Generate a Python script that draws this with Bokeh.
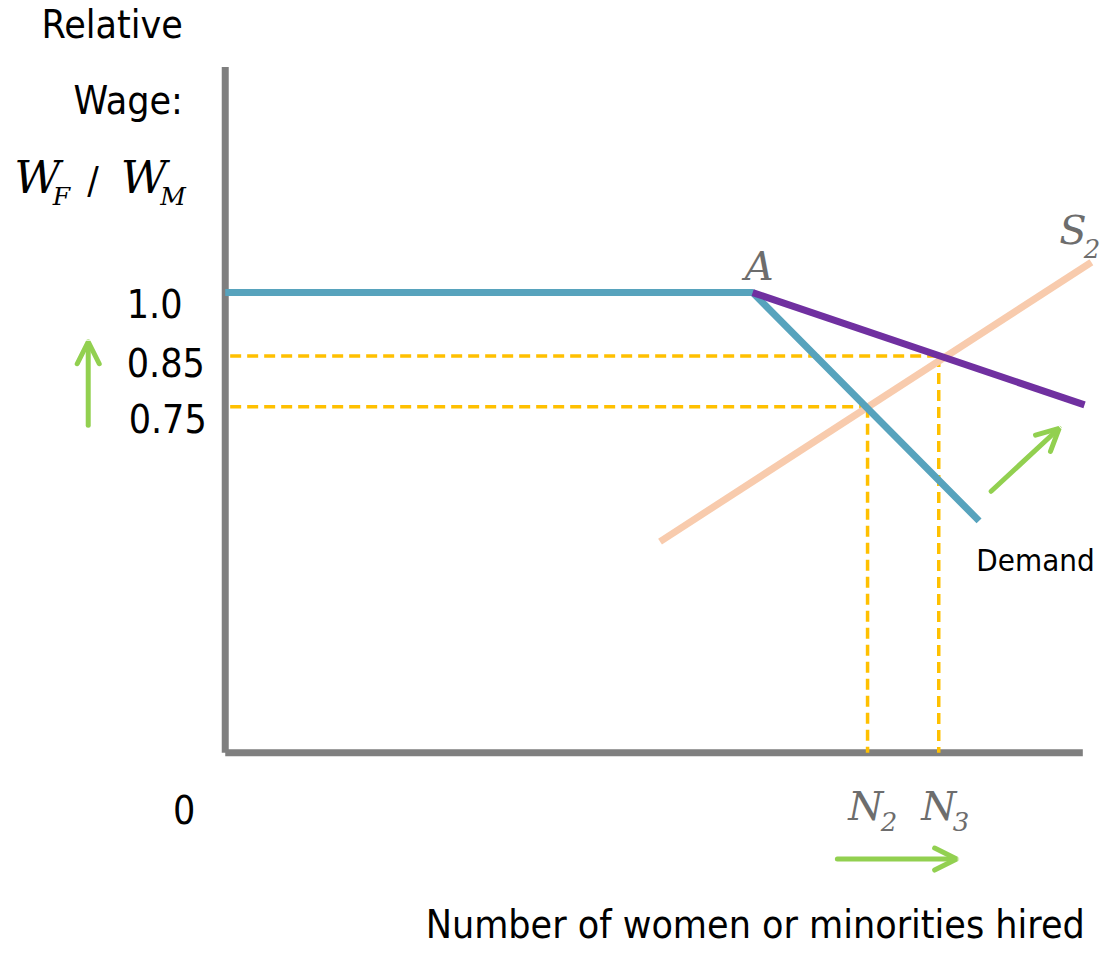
from bokeh.plotting import figure
from bokeh.models import Range1d, Arrow, OpenHead
from bokeh.core.properties import value
from bokeh.embed import file_html
from bokeh.resources import INLINE

# ---------------- data ----------------
axis_N_max = 100.0          # end of the horizontal axis
axis_W_max = 1.49           # top of the vertical axis
demand_N = [0.0, 61.5, 87.9]        # original demand, kinked at A
demand_W = [1.0, 1.0, 0.504]
demand2_N = [61.5, 100.2]           # new demand from A
demand2_W = [1.0, 0.756]
supply_N = [50.7, 101.0]            # S2
supply_W = [0.459, 1.066]
eq_N = [74.9, 83.2]                 # N2, N3
eq_W = [0.752, 0.862]               # 0.75, 0.85
tick_labels = ["1.0", "0.85", "0.75"]

# ---------------- helpers: reference-image pixel -> data ----------------
PXN = 8.7
PXW = 468.0
def X(px):
    return (px - 228) / PXN
def Y(py):
    return (765 - py) / PXW

W, H = 1104, 949
p = figure(width=W, height=H, output_backend="svg", toolbar_location=None,
           x_range=Range1d(X(0), X(1120)), y_range=Range1d(Y(965), Y(0)),
           x_axis_location=None, y_axis_location=None, min_border=0,
           outline_line_color=None, background_fill_color="white",
           border_fill_color="white")
p.xgrid.visible = False
p.ygrid.visible = False

SANS = value("DejaVu Sans Condensed, Liberation Sans Narrow, Roboto")
SERIF = value("DejaVu Serif")
GREY_T = "#6d6d6d"
GREEN = "#92d050"

# axes
p.segment(x0=[0, 0], y0=[Y(765), 0], x1=[0, axis_N_max], y1=[axis_W_max, 0],
          line_color="#7f7f7f", line_width=7)

# dashed guides
dash = dict(line_color="#ffc000", line_width=3.5, line_dash="11 6")
for n, w in zip(eq_N, eq_W):
    p.line([X(233), n], [w, w], **dash)
    p.line([n, n], [w, 0], **dash)

# curves
p.line(supply_N, supply_W, line_color="#f8cbad", line_width=7)
p.line(demand_N, demand_W, line_color="#57a3bd", line_width=7)
p.line(demand2_N, demand2_W, line_color="#7030a0", line_width=7)

# arrows
def arrow(x0, y0, x1, y1):
    p.add_layout(Arrow(x_start=x0, y_start=y0, x_end=x1, y_end=y1,
                       line_color=GREEN, line_width=5, line_cap="round",
                       end=OpenHead(size=22, line_color=GREEN, line_width=5,
                                    line_cap="round")))
arrow(X(89), Y(432), X(89), Y(347))
arrow(X(1005), Y(499), X(1074), Y(435))
arrow(X(849), Y(873), X(970), Y(873))

def txt(x, y, s, size, font=SANS, color="black", align="left", style="normal"):
    p.text(x=[x], y=[y], text=[s], text_font=font, text_font_size=f"{size}px",
           text_color=color, text_align=align, text_baseline="alphabetic",
           text_font_style=style, y_offset=-round(0.38 * size))

# y-axis title
txt(X(185), Y(40), "Relative", 39, align="right")
txt(X(185), Y(117), "Wage:", 39, align="right")
txt(X(14), Y(197), "W", 45, font=SERIF, style="italic")
txt(X(53), Y(209), "F", 25, font=SERIF, style="italic")
txt(X(88), Y(197), "/", 38)
txt(X(122), Y(197), "W", 45, font=SERIF, style="italic")
txt(X(162), Y(209), "M", 25, font=SERIF, style="italic")

# wage ticks
txt(X(128), Y(323), tick_labels[0], 39)
txt(X(128), Y(383), tick_labels[1], 39)
txt(X(130), Y(440), tick_labels[2], 39)
txt(X(175), Y(838), "0", 39)

# point / curve labels
txt(X(755), Y(285), "A", 40, font=SERIF, color=GREY_T, style="italic")
txt(X(1074), Y(249), "S", 40, font=SERIF, color=GREY_T, style="italic")
txt(X(1099), Y(262), "2", 26, font=SERIF, color=GREY_T, style="italic")
txt(X(860), Y(834), "N", 40, font=SERIF, color=GREY_T, style="italic")
txt(X(893), Y(845), "2", 26, font=SERIF, color=GREY_T, style="italic")
txt(X(934), Y(834), "N", 40, font=SERIF, color=GREY_T, style="italic")
txt(X(966), Y(845), "3", 26, font=SERIF, color=GREY_T, style="italic")
txt(X(990), Y(581), "Demand", 31)

# x-axis title
txt(X(1100), Y(955), "Number of women or minorities hired", 39, align="right")

open("out.html", "w").write(file_html(p, INLINE))
